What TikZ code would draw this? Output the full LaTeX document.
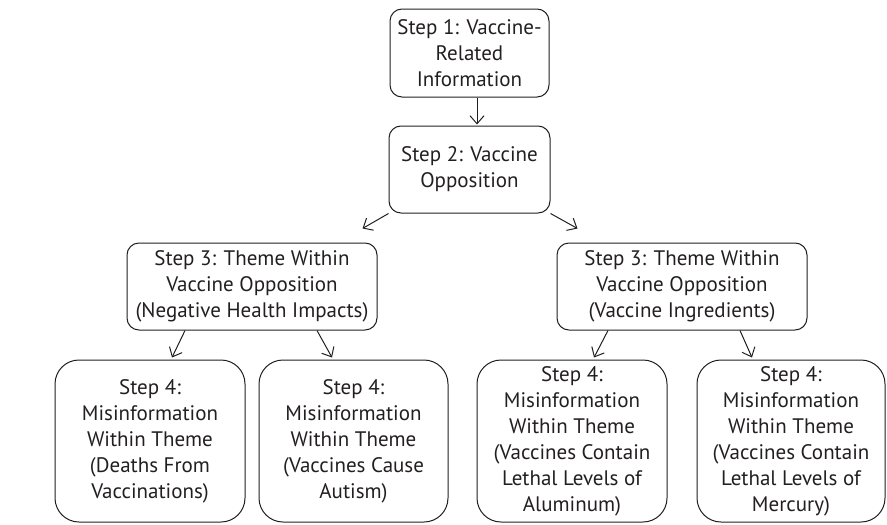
\documentclass[tikz,border=0pt]{standalone}
\usepackage{fontspec}
\setmainfont{PT Sans}
\usetikzlibrary{arrows.meta,calc}
\definecolor{ink}{HTML}{231F20}
\tikzset{
  box/.style={draw=ink, line width=1pt, rounded corners=12pt, align=center, text=ink,
    font=\fontsize{21}{26}\selectfont, inner sep=0pt},
  bigbox/.style={box, rounded corners=24pt},
  arr/.style={draw=ink, line width=1pt, -{Straight Barb[length=8pt,width=14pt,line width=1pt]}}
}
\begin{document}
\begin{tikzpicture}[x=1pt,y=-1pt]
\useasboundingbox (0,0) rectangle (887,525);
\node[box, minimum width=159pt, minimum height=88pt] (b1) at (469.5,53) {Step 1: Vaccine-\\Related\\Information};
\node[box, minimum width=161pt, minimum height=87pt] (b2) at (469.5,169.5) {Step 2: Vaccine\\Opposition};
\node[box, minimum width=250pt, minimum height=87pt] (b3l) at (252,286.5) {Step 3: Theme Within\\Vaccine Opposition\\(Negative Health Impacts)};
\node[box, minimum width=250pt, minimum height=87pt] (b3r) at (682,286.5) {Step 3: Theme Within\\Vaccine Opposition\\(Vaccine Ingredients)};
\node[bigbox, minimum width=190pt, minimum height=162pt] (b4a) at (150,441) {Step 4:\\Misinformation\\Within Theme\\(Deaths From\\Vaccinations)};
\node[bigbox, minimum width=189pt, minimum height=162pt] (b4b) at (353.5,441) {Step 4:\\Misinformation\\Within Theme\\(Vaccines Cause\\Autism)};
\node[bigbox, minimum width=190pt, minimum height=162pt] (b4c) at (572,441) {Step 4:\\Misinformation\\Within Theme\\(Vaccines Contain\\Lethal Levels of\\Aluminum)};
\node[bigbox, minimum width=188pt, minimum height=162pt] (b4d) at (791,441) {Step 4:\\Misinformation\\Within Theme\\(Vaccines Contain\\Lethal Levels of\\Mercury)};
\draw[arr] ($(b1.south)+(7.5,0)$) -- ($(b2.north)+(7.5,-1)$);
\draw[arr] (b2.south west) -- ($(b3l.north east)+(-15,-14)$);
\draw[arr] (b2.south east) -- ($(b3r.north west)+(21,-14)$);
\draw[arr] ($(b3l.south)+(-67,0)$) -- ($(b4a.north)+(22,-2)$);
\draw[arr] ($(b3l.south)+(65,0)$) -- ($(b4b.north)+(-21.5,-2)$);
\draw[arr] ($(b3r.south)+(-74,0)$) -- ($(b4c.north)+(22,-2)$);
\draw[arr] ($(b3r.south)+(58,0)$) -- ($(b4d.north)+(-39,-2)$);
\end{tikzpicture}
\end{document}
